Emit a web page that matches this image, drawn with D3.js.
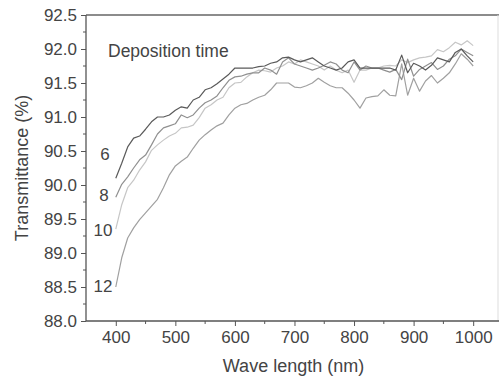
<!DOCTYPE html>
<html>
<head>
<meta charset="utf-8">
<script src="https://cdn.jsdelivr.net/npm/d3@7/dist/d3.min.js"></script>
<style>
  html, body { margin: 0; padding: 0; background: #fff; }
  svg { display: block; }
  text { font-family: "Liberation Sans", Arial, sans-serif; fill: #444; }
</style>
</head>
<body>
<svg id="chart" width="499" height="381"></svg>
<script>
// ---- data ----
const wavelengths = d3.range(400, 1001, 10);
const series6 = [90.10,90.32,90.56,90.69,90.72,90.82,90.93,91.00,91.00,91.03,
                 91.10,91.15,91.13,91.25,91.29,91.40,91.43,91.49,91.56,91.63,
                 91.72,91.72,91.72,91.72,91.74,91.75,91.79,91.81,91.87,91.88,
                 91.84,91.81,91.84,91.87,91.81,91.75,91.72,91.69,91.72,91.81,
                 91.84,91.72,91.72,91.72,91.72,91.72,91.72,91.69,91.91,91.65,
                 91.79,91.75,91.69,91.76,91.87,91.84,91.81,91.95,92.00,91.90,91.81];
const series8 = [89.82,90.01,90.12,90.25,90.37,90.44,90.59,90.75,90.84,90.87,
                 90.90,91.03,90.99,91.03,91.13,91.21,91.25,91.31,91.43,91.54,
                 91.59,91.60,91.63,91.65,91.65,91.72,91.69,91.63,91.81,91.87,
                 91.78,91.75,91.72,91.69,91.72,91.76,91.81,91.78,91.69,91.65,
                 91.81,91.69,91.75,91.72,91.72,91.69,91.66,91.70,91.55,91.85,
                 91.60,91.70,91.75,91.80,91.70,91.75,91.85,91.90,92.00,91.95,91.90];
const series10 = [89.35,89.71,89.96,90.07,90.22,90.34,90.51,90.59,90.66,90.72,
                  90.76,90.84,90.85,90.88,90.99,91.13,91.18,91.25,91.29,91.43,
                  91.50,91.51,91.59,91.65,91.69,91.68,91.66,91.72,91.75,91.81,
                  91.78,91.84,91.81,91.78,91.75,91.69,91.75,91.69,91.65,91.69,
                  91.51,91.69,91.69,91.72,91.72,91.75,91.76,91.75,91.84,91.80,
                  91.84,91.87,91.88,91.90,91.99,91.96,92.02,92.10,92.06,92.12,92.05];
const series12 = [88.50,88.93,89.22,89.37,89.49,89.59,89.69,89.79,89.96,90.15,
                  90.28,90.35,90.41,90.54,90.66,90.74,90.81,90.87,90.91,91.03,
                  91.13,91.18,91.20,91.25,91.29,91.32,91.40,91.50,91.50,91.50,
                  91.44,91.43,91.46,91.50,91.57,91.51,91.46,91.43,91.43,91.35,
                  91.25,91.13,91.28,91.30,91.31,91.40,91.32,91.31,91.78,91.32,
                  91.57,91.38,91.53,91.61,91.50,91.57,91.65,91.78,91.93,91.85,91.75];
const seriesNames = ["6", "8", "10", "12"];
const seriesValues = [series6, series8, series10, series12];
const xTicks = [400, 500, 600, 700, 800, 900, 1000];
const yTicks = [88.0, 88.5, 89.0, 89.5, 90.0, 90.5, 91.0, 91.5, 92.0, 92.5];
const annotation = "Deposition time";
const xTitle = "Wave length (nm)";
const yTitle = "Transmittance (%)";

// ---- layout ----
const svg = d3.select("#chart");
const L = 86, R = 497, T = 15, B = 321;
const x = d3.scaleLinear().domain([350, 1040]).range([L, R]);
const y = d3.scaleLinear().domain([88, 92.5]).range([B, T]);
const colors = ["#5a5a5a", "#909090", "#c6c6c6", "#a0a0a0"];
const axisColor = "#555";

// frame
svg.append("line").attr("x1", L).attr("x2", 499).attr("y1", T).attr("y2", T)
  .attr("stroke", "#666").attr("stroke-width", 1.6);
svg.append("line").attr("x1", 498).attr("x2", 498).attr("y1", T).attr("y2", B)
  .attr("stroke", "#ddd").attr("stroke-width", 1);

// lines
const line = d3.line().x((d, i) => x(wavelengths[i])).y(d => y(d));
[3, 2, 1, 0].forEach(k => {
  svg.append("path").datum(seriesValues[k])
    .attr("d", line).attr("fill", "none")
    .attr("stroke", colors[k]).attr("stroke-width", 1.2)
    .attr("stroke-linejoin", "round");
});

// y axis
const yAxis = d3.axisLeft(y).tickValues(yTicks).tickFormat(d3.format(".1f")).tickSize(5).tickPadding(4);
const gy = svg.append("g").attr("transform", `translate(${L},0)`).call(yAxis);
const yMinor = d3.range(88.25, 92.5, 0.5);
gy.selectAll(".minor").data(yMinor).enter().append("line")
  .attr("x1", -3).attr("x2", 0).attr("y1", d => y(d)).attr("y2", d => y(d))
  .attr("stroke", axisColor);

// x axis
const xAxis = d3.axisBottom(x).tickValues(xTicks).tickFormat(d3.format("d")).tickSize(5).tickPadding(5);
const gx = svg.append("g").attr("transform", `translate(0,${B})`).call(xAxis);
const xMinor = d3.range(450, 1001, 100);
gx.selectAll(".minor").data(xMinor).enter().append("line")
  .attr("x1", d => x(d)).attr("x2", d => x(d)).attr("y1", 0).attr("y2", 3)
  .attr("stroke", axisColor);

[gx, gy].forEach(g => {
  g.select(".domain").attr("stroke", axisColor).attr("stroke-width", 1.3);
  g.selectAll(".tick line").attr("stroke", axisColor);
  g.selectAll(".tick text").attr("font-size", 17).attr("fill", "#444")
    .attr("font-family", '"Liberation Sans", Arial, sans-serif');
});
gy.select(".domain").attr("d", `M0,${T}V${B}`);
gx.select(".domain").attr("d", `M${L},0H499`);

// titles
svg.append("text").attr("x", (L + R) / 2 + 2).attr("y", 372)
  .attr("text-anchor", "middle").attr("font-size", 18).text(xTitle);
svg.append("text").attr("transform", `translate(28,${(T + B) / 2}) rotate(-90)`)
  .attr("text-anchor", "middle").attr("font-size", 18).text(yTitle);

// annotation
svg.append("text").attr("x", 108).attr("y", 57).attr("font-size", 17.5).text(annotation);

// series labels
const labelPos = [[105, 154], [104, 195], [103, 230], [103, 286]];
seriesNames.forEach((n, i) => {
  svg.append("text").attr("x", labelPos[i][0]).attr("y", labelPos[i][1])
    .attr("dy", "0.35em").attr("text-anchor", "middle")
    .attr("font-size", 17).text(n);
});
</script>
</body>
</html>
